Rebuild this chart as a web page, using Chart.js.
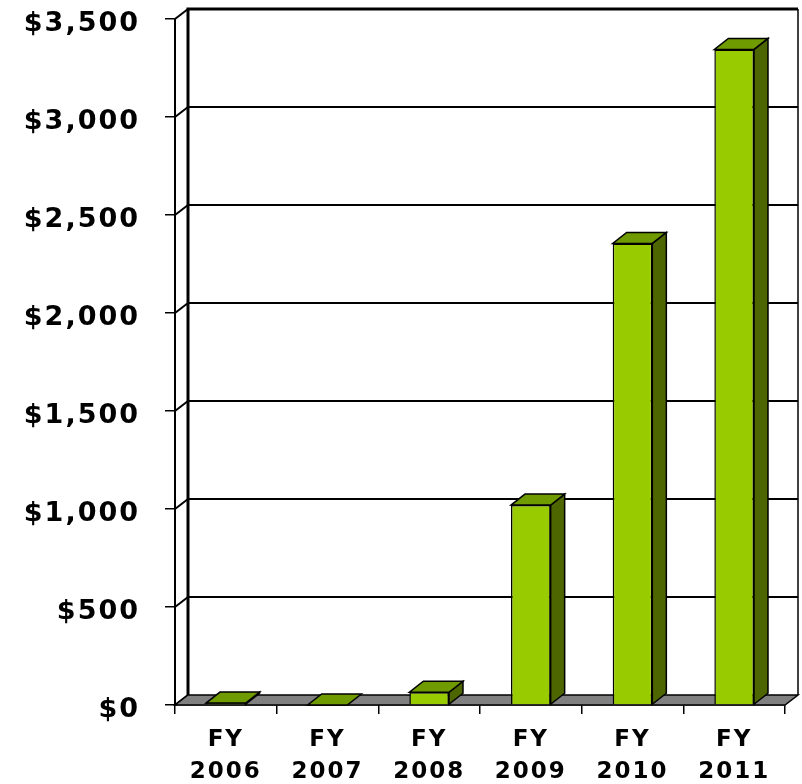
<!DOCTYPE html>
<html>
<head>
<meta charset="utf-8">
<script src="https://cdn.jsdelivr.net/npm/chart.js@4.4.1/dist/chart.umd.min.js"></script>
<style>
  html, body { margin: 0; padding: 0; background: #ffffff; }
  #wrap { width: 802px; height: 784px; position: relative; }
</style>
</head>
<body>
<div id="wrap"><canvas id="c" width="802" height="784"></canvas></div>
<script>
const categories = ['FY 2006', 'FY 2007', 'FY 2008', 'FY 2009', 'FY 2010', 'FY 2011'];
const values = [10, 0, 65, 1020, 2355, 3345];
const yMin = 0;
const yMax = 3500;
const yStep = 500;

const DX = 13, DY = -10;       // depth of walls / floor
const BDX = 14, BDY = -11;     // depth of bars

const fmt = v => '$' + v.toLocaleString('en-US');

const spacing = {
  id: 'spacing',
  beforeLayout(chart) { chart.ctx.letterSpacing = '2px'; },
  beforeDraw(chart) { chart.ctx.letterSpacing = '2px'; }
};

const walls = {
  id: 'walls',
  beforeDatasetsDraw(chart) {
    const ctx = chart.ctx;
    const y = chart.scales.y, x = chart.scales.x;
    const L = x.left, R = x.right;
    const y0 = y.getPixelForValue(yMin), yTop = y.getPixelForValue(yMax);
    ctx.save();
    ctx.strokeStyle = '#000';
    for (let v = yMin + yStep; v < yMax; v += yStep) {
      const p = y.getPixelForValue(v);
      ctx.lineWidth = 2;
      ctx.beginPath();
      ctx.moveTo(L + DX, p + DY);
      ctx.lineTo(R + DX, p + DY);
      ctx.stroke();
    }
    for (let v = yMin; v <= yMax; v += yStep) {
      const p = y.getPixelForValue(v);
      ctx.lineWidth = 2;
      ctx.beginPath();
      ctx.moveTo(L, p);
      ctx.lineTo(L + DX, p + DY);
      ctx.stroke();
    }
    ctx.lineWidth = 3;
    ctx.beginPath();
    ctx.moveTo(L + DX, y0 + DY);
    ctx.lineTo(L + DX, yTop + DY);
    ctx.lineTo(R + DX, yTop + DY);
    ctx.stroke();
    ctx.lineWidth = 1.5;
    ctx.beginPath();
    ctx.moveTo(R + DX, yTop + DY);
    ctx.lineTo(R + DX, y0 + DY);
    ctx.stroke();
    ctx.fillStyle = '#808080';
    ctx.lineWidth = 1.5;
    ctx.beginPath();
    ctx.moveTo(L, y0);
    ctx.lineTo(R, y0);
    ctx.lineTo(R + DX, y0 + DY);
    ctx.lineTo(L + DX, y0 + DY);
    ctx.closePath();
    ctx.fill();
    ctx.stroke();
    ctx.restore();
  },
  afterDatasetsDraw(chart) {
    const ctx = chart.ctx;
    const meta = chart.getDatasetMeta(0);
    ctx.save();
    ctx.strokeStyle = '#000';
    ctx.lineWidth = 1.5;
    meta.data.forEach(bar => {
      const p = bar.getProps(['x', 'y', 'base', 'width'], true);
      const x1 = p.x - p.width / 2, x2 = p.x + p.width / 2;
      const top = p.y, base = p.base;
      if (base - top > 0.5) {
        ctx.fillStyle = '#4d6600';
        ctx.beginPath();
        ctx.moveTo(x2, top);
        ctx.lineTo(x2 + BDX, top + BDY);
        ctx.lineTo(x2 + BDX, base + BDY);
        ctx.lineTo(x2, base);
        ctx.closePath();
        ctx.fill();
        ctx.stroke();
      }
      ctx.fillStyle = '#6f9a00';
      ctx.beginPath();
      ctx.moveTo(x1, top);
      ctx.lineTo(x2, top);
      ctx.lineTo(x2 + BDX, top + BDY);
      ctx.lineTo(x1 + BDX, top + BDY);
      ctx.closePath();
      ctx.fill();
      ctx.stroke();
    });
    ctx.restore();
  }
};

new Chart(document.getElementById('c'), {
  type: 'bar',
  data: {
    labels: categories.map(c => c.split(' ')),
    datasets: [{
      data: values,
      backgroundColor: '#99cc00',
      borderColor: '#000000',
      borderWidth: 1.5,
      barPercentage: 0.39,
      categoryPercentage: 1.0
    }]
  },
  options: {
    responsive: false,
    animation: false,
    devicePixelRatio: 1,
    layout: { padding: { top: 19, right: 17, left: 0, bottom: 0 } },
    plugins: { legend: { display: false }, tooltip: { enabled: false } },
    scales: {
      x: {
        grid: { drawOnChartArea: false, color: '#000', lineWidth: 1.5, tickLength: 9, offset: true },
        border: { color: '#000', width: 1.5 },
        ticks: {
          color: '#000',
          font: { family: 'DejaVu Sans', weight: 'bold', size: 23, lineHeight: 1.4 },
          padding: 10,
          maxRotation: 0,
          autoSkip: false
        },
        afterFit(s) { s.height = 79; s.paddingLeft = 0; s.paddingRight = 0; }
      },
      y: {
        min: yMin,
        max: yMax,
        grid: { drawOnChartArea: false, color: '#000', lineWidth: 1.5, tickLength: 10 },
        border: { color: '#000', width: 2 },
        ticks: {
          stepSize: yStep,
          color: '#000',
          font: { family: 'DejaVu Sans', weight: 'bold', size: 27 },
          padding: 25,
          labelOffset: 5,
          callback: v => fmt(v)
        },
        afterFit(s) { s.width = 175; s.paddingTop = 0; s.paddingBottom = 0; }
      }
    }
  },
  plugins: [spacing, walls]
});
</script>
</body>
</html>
